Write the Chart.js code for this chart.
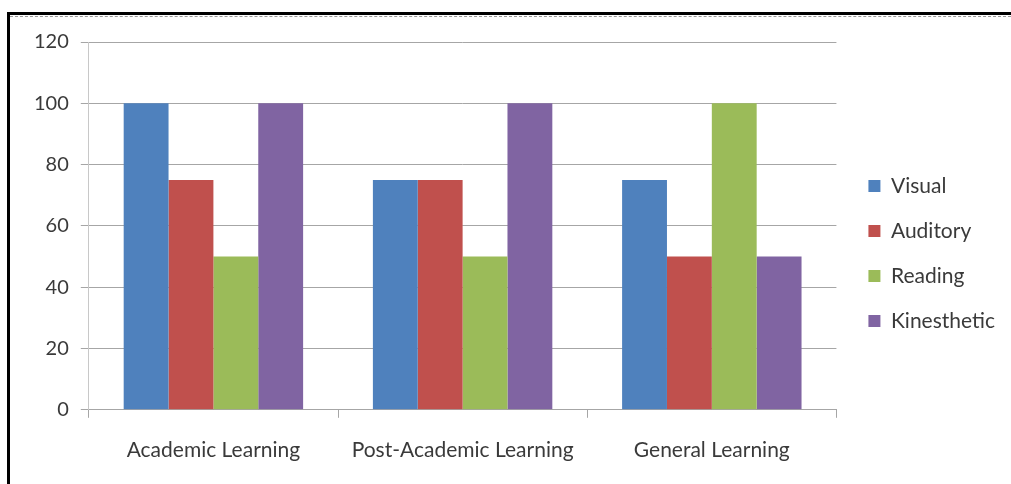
<!DOCTYPE html>
<html>
<head>
<meta charset="utf-8">
<script src="https://cdn.jsdelivr.net/npm/chart.js@4"></script>
<style>
  html, body { margin: 0; padding: 0; background: #fff; }
  #frame {
    position: absolute; left: 7px; top: 12px; width: 1004px; height: 472px;
    border-left: 3px solid #000; border-top: 3px solid #000; box-sizing: border-box;
  }
  #frame::before {
    content: ""; position: absolute; left: 0; right: 0; top: 1px;
    border-top: 1px dashed #999;
  }
  #wrap { position: absolute; left: 0; top: 2px; width: 1001px; height: 467px; }
</style>
</head>
<body>
<div id="frame"><div id="wrap"><canvas id="chart"></canvas></div></div>
<script>
document.addEventListener("DOMContentLoaded", function () {
    // Chart data
    const categories = ["Academic Learning", "Post-Academic Learning", "General Learning"];
    const visual = [100, 75, 75];
    const auditory = [75, 75, 50];
    const reading = [50, 50, 100];
    const kinesthetic = [100, 100, 50];
    const yTicks = [0, 20, 40, 60, 80, 100, 120];

    const family = "Lato, 'Liberation Sans', sans-serif";
    const tickFont = { family, size: 20 };
    const labelFont = { family, size: 21 };
    const textColor = "#3a3a3a";

    const makeSet = (label, data, color) => ({
        label, data, backgroundColor: color, borderWidth: 0,
        categoryPercentage: 0.72, barPercentage: 1.0
    });

    // nudge the legend box a little right and up, like the original
    const legendShift = {
        id: "legendShift",
        afterLayout(chart) {
            const lg = chart.legend;
            lg.left += 8; lg.right += 8;
            lg.top -= 9; lg.bottom -= 9;
        }
    };

    new Chart(document.querySelector("#chart").getContext("2d"), {
        type: "bar",
        data: {
            labels: categories,
            datasets: [
                makeSet("Visual", visual, "#4F81BD"),
                makeSet("Auditory", auditory, "#C0504D"),
                makeSet("Reading", reading, "#9BBB59"),
                makeSet("Kinesthetic", kinesthetic, "#8064A2")
            ]
        },
        options: {
            responsive: true,
            maintainAspectRatio: false,
            animation: false,
            layout: { padding: { left: 12, top: 25, right: 14, bottom: 1 } },
            plugins: {
                tooltip: { enabled: false },
                legend: {
                    position: "right",
                    labels: {
                        font: labelFont, color: textColor, boxWidth: 12, boxHeight: 12,
                        padding: 24
                    }
                }
            },
            scales: {
                x: {
                    grid: { display: true, drawOnChartArea: false, offset: true, color: "#a6a6a6", tickLength: 8 },
                    border: { color: "#a6a6a6" },
                    ticks: { font: labelFont, color: textColor, padding: 20 }
                },
                y: {
                    min: 0, max: 120,
                    afterBuildTicks: (axis) => { axis.ticks = yTicks.map(v => ({ value: v })); },
                    grid: { color: "#a6a6a6", tickLength: 8 },
                    border: { color: "#c8c8c8" },
                    ticks: { font: tickFont, color: textColor, padding: 12 }
                }
            }
        },
        plugins: [legendShift]
    });
});
</script>
</body>
</html>
